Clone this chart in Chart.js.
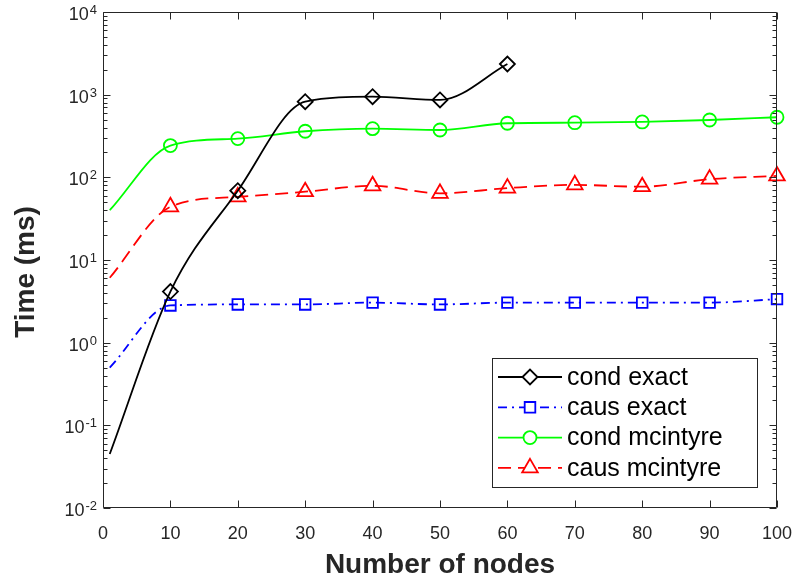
<!DOCTYPE html>
<html>
<head>
<meta charset="utf-8">
<script src="https://cdn.jsdelivr.net/npm/chart.js@4/dist/chart.umd.min.js"></script>
<style>
  html, body { margin: 0; padding: 0; background: #ffffff; }
  #wrap { width: 796px; height: 583px; }
</style>
</head>
<body>
<div id="wrap"><canvas id="c" width="796" height="583"></canvas></div>
<script>
// ---------------- data ----------------
const nodesExact    = [1, 10, 20, 30, 40, 50, 60];
const nodesAll      = [1, 10, 20, 30, 40, 50, 60, 70, 80, 90, 100];
const condExact     = [0.045, 4.15, 69, 823, 946, 863, 2350];
const causExact     = [0.50, 2.82, 2.9, 2.9, 3.05, 2.9, 3.05, 3.05, 3.05, 3.05, 3.36];
const condMcintyre  = [40, 242, 294, 361, 388, 374, 451, 458, 468, 494, 533];
const causMcintyre  = [6.1, 44, 58, 67, 79, 64, 74, 81, 77, 95, 104];
const seriesLabels  = ['cond exact', 'caus exact', 'cond mcintyre', 'caus mcintyre'];
const xTickValues   = [0, 10, 20, 30, 40, 50, 60, 70, 80, 90, 100];
const yTickExponents = [-2, -1, 0, 1, 2, 3, 4];
const xTitle = 'Number of nodes';
const yTitle = 'Time (ms)';

const FONT = '"Liberation Sans", Arial, Helvetica, sans-serif';
const AXIS_COLOR = '#262626';

function pts(xs, ys) { return ys.map((v, i) => ({ x: xs[i], y: v })); }
function radii(n, r) { return Array.from({ length: n }, (_, i) => i === 0 ? 0 : r); }

const datasets = [
  { label: seriesLabels[0], data: pts(nodesExact, condExact), borderColor: '#000000',
    borderDash: [], pointStyle: 'rectRot', pointRadius: radii(nodesExact.length, 7.5) },
  { label: seriesLabels[1], data: pts(nodesAll, causExact), borderColor: '#0000ff',
    borderDash: [9, 5, 2, 5], pointStyle: 'rect', pointRadius: radii(nodesAll.length, 7.5) },
  { label: seriesLabels[2], data: pts(nodesAll, condMcintyre), borderColor: '#00ff00',
    borderDash: [], pointStyle: 'circle', pointRadius: radii(nodesAll.length, 6.5) },
  { label: seriesLabels[3], data: pts(nodesAll, causMcintyre), borderColor: '#ff0000',
    borderDash: [13, 7], pointStyle: 'triangle', pointRadius: radii(nodesAll.length, 9) }
].map(d => Object.assign({
  borderWidth: 1.8,
  pointBorderColor: d.borderColor,
  pointBackgroundColor: 'rgba(0,0,0,0)',
  pointBorderWidth: 1.8,
  pointHoverRadius: 0,
  fill: false,
  cubicInterpolationMode: 'monotone',
  clip: false
}, d));

// --------------- axes / ticks / legend drawing ---------------
const matlabAxes = {
  id: 'matlabAxes',
  afterDatasetsDraw(chart) {
    const { ctx, chartArea: a, scales } = chart;
    const xs = scales.x, ys = scales.y;
    ctx.save();
    ctx.strokeStyle = AXIS_COLOR;
    ctx.lineWidth = 1;
    const L = Math.round(a.left) + 0.5, R = Math.round(a.right) - 0.5;
    const T = Math.round(a.top) + 0.5, B = Math.round(a.bottom) - 0.5;
    ctx.beginPath();
    ctx.rect(L, T, R - L, B - T);
    ctx.stroke();
    ctx.beginPath();
    xTickValues.forEach(v => {
      const px = Math.round(xs.getPixelForValue(v)) + 0.5;
      ctx.moveTo(px, B); ctx.lineTo(px, B - 7);
      ctx.moveTo(px, T); ctx.lineTo(px, T + 7);
    });
    yTickExponents.forEach((k, idx) => {
      const py = Math.round(ys.getPixelForValue(Math.pow(10, k))) + 0.5;
      ctx.moveTo(L, py); ctx.lineTo(L + 7, py);
      ctx.moveTo(R, py); ctx.lineTo(R - 7, py);
      if (idx < yTickExponents.length - 1) {
        for (let m = 2; m <= 9; m++) {
          const pm = Math.round(ys.getPixelForValue(m * Math.pow(10, k))) + 0.5;
          ctx.moveTo(L, pm); ctx.lineTo(L + 4, pm);
          ctx.moveTo(R, pm); ctx.lineTo(R - 4, pm);
        }
      }
    });
    ctx.stroke();
    // y tick labels 10^k
    ctx.fillStyle = AXIS_COLOR;
    ctx.textBaseline = 'alphabetic';
    yTickExponents.forEach(k => {
      const py = ys.getPixelForValue(Math.pow(10, k));
      const exp = String(k);
      ctx.font = '13px ' + FONT;
      const ew = ctx.measureText(exp).width;
      ctx.textAlign = 'right';
      ctx.fillText(exp, a.left - 6, py + 2);
      ctx.font = '18px ' + FONT;
      ctx.fillText('10', a.left - 6 - ew - 1, py + 8);
    });
    // y axis title
    ctx.save();
    ctx.translate(26, (a.top + a.bottom) / 2 + 12);
    ctx.rotate(-Math.PI / 2);
    ctx.font = 'bold 28px ' + FONT;
    ctx.textAlign = 'center';
    ctx.textBaseline = 'middle';
    ctx.fillText(yTitle, 0, 0);
    ctx.restore();
    ctx.restore();
  },
  afterDraw(chart) {
    const { ctx, chartArea: a } = chart;
    const boxR = a.right - 20, boxB = a.bottom - 21;
    const boxL = boxR - 265, boxT = boxB - 129;
    ctx.save();
    ctx.fillStyle = '#ffffff';
    ctx.fillRect(boxL, boxT, boxR - boxL, boxB - boxT);
    ctx.strokeStyle = AXIS_COLOR;
    ctx.lineWidth = 1;
    ctx.strokeRect(Math.round(boxL) + 0.5, Math.round(boxT) + 0.5, boxR - boxL, boxB - boxT);
    chart.data.datasets.forEach((ds, i) => {
      const cy = boxT + 19 + i * 30.3;
      const x0 = boxL + 6, x1 = boxL + 70, xm = boxL + 38;
      ctx.strokeStyle = ds.borderColor;
      ctx.lineWidth = ds.borderWidth;
      ctx.setLineDash(ds.borderDash || []);
      ctx.beginPath(); ctx.moveTo(x0, cy); ctx.lineTo(x1, cy); ctx.stroke();
      ctx.setLineDash([]);
      ctx.fillStyle = '#ffffff';
      ctx.strokeStyle = ds.borderColor;
      ctx.lineWidth = ds.pointBorderWidth;
      const r = ds.pointRadius[1];
      Chart.helpers.drawPoint(ctx, { pointStyle: ds.pointStyle, radius: r, borderWidth: ds.pointBorderWidth, rotation: 0 }, xm, cy);
      ctx.fillStyle = '#000000';
      ctx.font = '25px ' + FONT;
      ctx.textAlign = 'left';
      ctx.textBaseline = 'middle';
      ctx.fillText(ds.label, boxL + 75, cy + 1);
    });
    ctx.restore();
  }
};

new Chart(document.getElementById('c'), {
  type: 'line',
  data: { datasets },
  options: {
    responsive: false,
    animation: false,
    devicePixelRatio: 1,
    layout: { padding: { left: 0, right: 19, top: 12, bottom: 0 } },
    plugins: { legend: { display: false }, tooltip: { enabled: false } },
    scales: {
      x: {
        type: 'linear', min: 0, max: 100,
        grid: { display: false }, border: { display: false },
        ticks: { stepSize: 10, autoSkip: false, maxRotation: 0, padding: 7,
                 color: AXIS_COLOR, font: { family: FONT, size: 18 } },
        title: { display: true, text: xTitle, color: AXIS_COLOR,
                 font: { family: FONT, size: 28, weight: 'bold' }, padding: { top: 0, bottom: 1 } },
        afterFit(s) { s.height = 75; s.paddingLeft = 0; s.paddingRight = 0; }
      },
      y: {
        type: 'logarithmic', min: 0.01, max: 10000,
        grid: { display: false }, border: { display: false },
        ticks: { display: false },
        title: { display: false, text: yTitle },
        afterFit(s) { s.width = 103; s.paddingTop = 0; s.paddingBottom = 0; }
      }
    }
  },
  plugins: [matlabAxes]
});
</script>
</body>
</html>
